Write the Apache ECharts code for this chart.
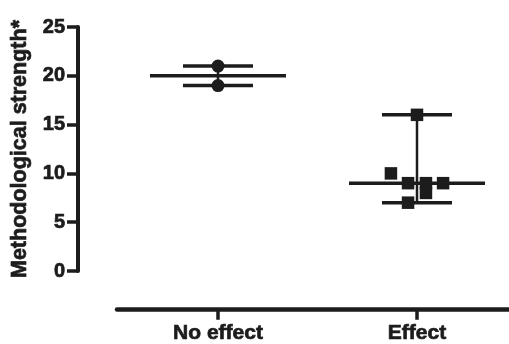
<!DOCTYPE html>
<html>
<head>
<meta charset="utf-8">
<script src="https://cdn.jsdelivr.net/npm/echarts@6/dist/echarts.min.js"></script>
<style>html,body{margin:0;padding:0;background:#fff}#c{width:509px;height:344px}</style>
</head>
<body>
<div id="c"></div>
<script>
var categories = ['No effect', 'Effect'];
var noEffectValues = [21, 19];
var noEffectJitter = [0, 0];
var effectValues = [16, 10, 9, 9, 9, 8, 7];
var effectJitter = [0, -0.131, -0.045, 0.045, 0.131, 0.045, -0.045];
var medians = [20, 9];
var yTicks = [0, 5, 10, 15, 20, 25];

var FONT = '"Liberation Sans", Arial, sans-serif';
var INK = '#1c1c1c';

function pts(ci, vals, jit) {
  return vals.map(function (v, i) { return [ci + 1 + jit[i], v]; });
}
var groups = [noEffectValues, effectValues];
var summary = groups.map(function (vals, i) {
  return [i + 1, medians[i], Math.min.apply(null, vals), Math.max.apply(null, vals)];
});
var heavy = {textBorderColor: INK, textBorderWidth: 0.7};

var chart = echarts.init(document.getElementById('c'), null, {renderer: 'canvas'});
chart.setOption({
  animation: false,
  backgroundColor: '#fff',
  grid: [
    {left: 78, right: 0, top: 27, bottom: 73},
    {left: 117, right: 0, top: 300, bottom: 33}
  ],
  xAxis: [
    {gridIndex: 0, type: 'value', min: 0.2965, max: 2.4623, show: false},
    {gridIndex: 1, type: 'value', min: 0.4925, max: 2.4623,
     axisLine: {show: true, lineStyle: {color: INK, width: 4.5}},
     axisTick: {show: true, length: 10, lineStyle: {color: INK, width: 3.5}, customValues: [1, 2]},
     axisLabel: Object.assign({show: true, customValues: [1, 2], margin: 13,
       formatter: function (v) { return categories[Math.round(v) - 1] || ''; },
       fontFamily: FONT, fontWeight: 'bold', fontSize: 21, color: INK}, heavy),
     splitLine: {show: false}}
  ],
  yAxis: [
    {gridIndex: 0, type: 'value', min: 0, max: 25, interval: 5,
     name: 'Methodological strength*', nameLocation: 'middle', nameRotate: 90, nameGap: 46,
     nameTextStyle: Object.assign({fontFamily: FONT, fontWeight: 'bold', fontSize: 21.5, color: INK}, heavy),
     axisLine: {show: true, lineStyle: {color: INK, width: 4}},
     axisTick: {show: true, length: 11, lineStyle: {color: INK, width: 3.5}},
     axisLabel: Object.assign({margin: 13, fontFamily: FONT, fontWeight: 'bold', fontSize: 20, color: INK,
       formatter: function (v) { return yTicks.indexOf(v) >= 0 ? String(v) : ''; }}, heavy),
     splitLine: {show: false}},
    {gridIndex: 1, type: 'value', show: false}
  ],
  series: [
    {
      type: 'custom', xAxisIndex: 0, yAxisIndex: 0, z: 2,
      data: summary,
      renderItem: function (params, api) {
        var x = api.value(0);
        var m = api.coord([x, api.value(1)]);
        var lo = api.coord([x, api.value(2)]);
        var hi = api.coord([x, api.value(3)]);
        var st = function (w) { return {stroke: INK, lineWidth: w}; };
        return {type: 'group', children: [
          {type: 'line', shape: {x1: lo[0], y1: lo[1], x2: hi[0], y2: hi[1]}, style: st(2.5)},
          {type: 'line', shape: {x1: m[0] - 68, y1: m[1], x2: m[0] + 68, y2: m[1]}, style: st(3.5)},
          {type: 'line', shape: {x1: lo[0] - 35, y1: lo[1], x2: lo[0] + 35, y2: lo[1]}, style: st(3.5)},
          {type: 'line', shape: {x1: hi[0] - 35, y1: hi[1], x2: hi[0] + 35, y2: hi[1]}, style: st(3.5)}
        ]};
      }
    },
    {type: 'scatter', xAxisIndex: 0, yAxisIndex: 0, z: 3, symbol: 'circle', symbolSize: 13,
     itemStyle: {color: INK, opacity: 1}, data: pts(0, noEffectValues, noEffectJitter)},
    {type: 'scatter', xAxisIndex: 0, yAxisIndex: 0, z: 3, symbol: 'rect', symbolSize: 12.5,
     itemStyle: {color: INK, opacity: 1}, data: pts(1, effectValues, effectJitter)}
  ]
});
</script>
</body>
</html>
